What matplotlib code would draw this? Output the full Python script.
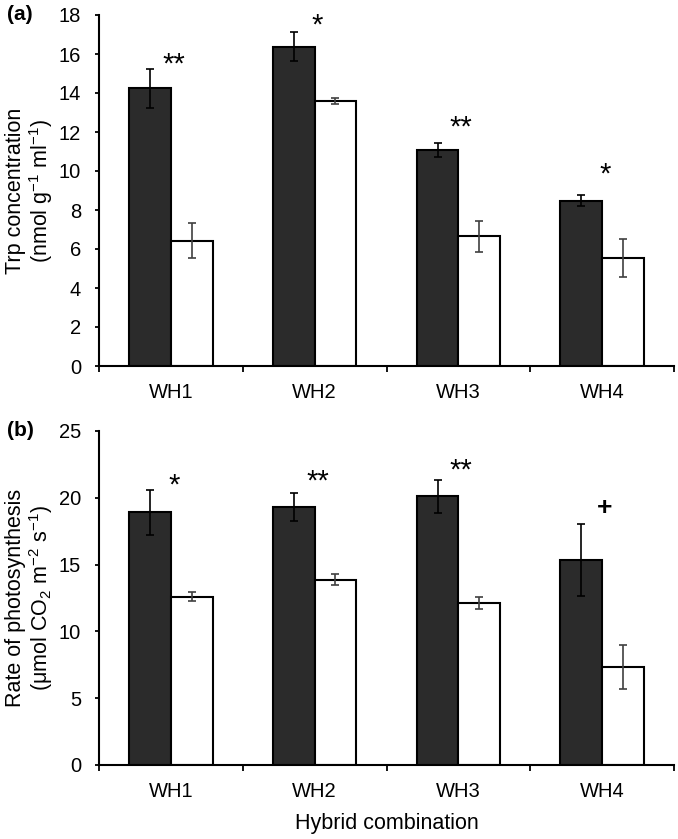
import numpy as np
import matplotlib
matplotlib.use("Agg")
import matplotlib.pyplot as plt
from matplotlib.transforms import offset_copy

plt.rcParams['font.family'] = ['Liberation Sans', 'DejaVu Sans']
plt.rcParams['mathtext.default'] = 'regular'

# data
hybrids = ["WH1", "WH2", "WH3", "WH4"]

trp_dark = [14.25, 16.38, 11.08, 8.48]
trp_dark_err = [1.0, 0.75, 0.35, 0.27]
trp_white = [6.42, 13.58, 6.65, 5.52]
trp_white_err = [0.9, 0.15, 0.8, 0.97]
trp_marks = ["**", "*", "**", "*"]
trp_mark_y = [15.9, 17.9, 12.7, 10.3]

ps_dark = [18.9, 19.33, 20.1, 15.34]
ps_dark_err = [1.7, 1.05, 1.25, 2.7]
ps_white = [12.6, 13.88, 12.12, 7.36]
ps_white_err = [0.35, 0.42, 0.45, 1.65]
ps_marks = ["*", "**", "**", "+"]
ps_mark_y = [21.6, 21.9, 22.7, 19.4]

W, H = 678, 839
fig = plt.figure(figsize=(W / 100, H / 100), dpi=100)

def panel(rect_px, dark, dark_err, white, white_err, marks, mark_y,
          ymax, ystep, tag, ylab):
    l, t, r, b = rect_px
    ax = fig.add_axes([l / W, 1 - b / H, (r - l) / W, (b - t) / H])
    x = np.arange(len(hybrids)) + 0.5
    bw = 0.29
    ax.bar(x - bw / 2, dark, bw, color="#2b2b2b", edgecolor="black", linewidth=1.5, zorder=2)
    ax.bar(x + bw / 2, white, bw, color="white", edgecolor="black", linewidth=1.5, zorder=2)
    ax.errorbar(x - bw / 2, dark, yerr=dark_err, fmt="none", ecolor="black",
                elinewidth=1.2, capsize=3, capthick=1.2, zorder=3)
    ax.errorbar(x + bw / 2, white, yerr=white_err, fmt="none", ecolor="#404040",
                elinewidth=1.2, capsize=3, capthick=1.2, zorder=3)
    # significance marks: mark_y is the centre of the glyph
    for xi, m, my in zip(x, marks, mark_y):
        if m == "+":
            fs, off, fw = 19, 0.35, "bold"
        else:
            fs, off, fw = 21, 0.58, "normal"
        tr = offset_copy(ax.transData, fig=fig, y=-off * fs, units="points")
        ax.text(xi + 0.02, my, m, ha="center", va="baseline", fontsize=fs,
                fontweight=fw, transform=tr)
    ax.set_xlim(0, len(hybrids))
    ax.set_ylim(0, ymax)
    ax.set_yticks(np.arange(0, ymax + 0.1, ystep))
    ax.set_xticks(np.arange(0, len(hybrids) + 1))
    ax.set_xticklabels([])
    ax.set_xticks(x, minor=True)
    ax.set_xticklabels(hybrids, minor=True)
    ax.tick_params(axis="x", which="minor", length=0, pad=12, labelsize=14.5)
    ax.tick_params(axis="x", which="major", length=4, width=1.3, direction="out")
    ax.tick_params(axis="y", length=3, width=1.3, direction="out", labelsize=14.5, pad=10)
    for s in ["top", "right"]:
        ax.spines[s].set_visible(False)
    for s in ["left", "bottom"]:
        ax.spines[s].set_linewidth(1.5)
    ax.text(-0.16, 1.0, tag, transform=ax.transAxes, fontsize=15,
            fontweight="bold", ha="left", va="center")
    ax.text(-0.12, 0.5, ylab, transform=ax.transAxes, rotation=90,
            ha="center", va="center", multialignment="center",
            fontsize=15.5, linespacing=1.1)
    return ax

panel((99, 15, 674, 366), trp_dark, trp_dark_err, trp_white, trp_white_err,
      trp_marks, trp_mark_y, 18, 2, "(a)",
      "Trp concentration\n(nmol g$^{-1}$ ml$^{-1}$)")
axb = panel((99, 431, 674, 765), ps_dark, ps_dark_err, ps_white, ps_white_err,
            ps_marks, ps_mark_y, 25, 5, "(b)",
            "Rate of photosynthesis\n(\u03bcmol CO$_2$ m$^{-2}$ s$^{-1}$)")
axb.set_xlabel("Hybrid combination", fontsize=15.5, labelpad=9)

fig.savefig("out.png", dpi=100)
